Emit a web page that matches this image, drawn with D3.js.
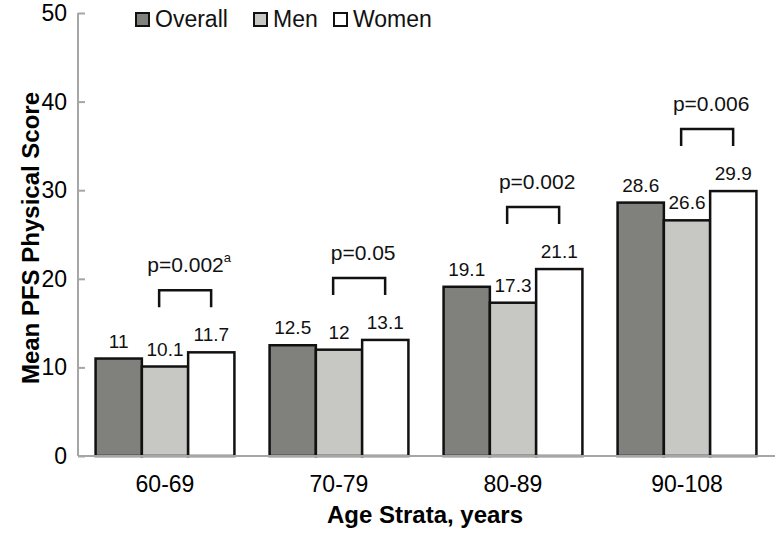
<!DOCTYPE html>
<html>
<head>
<meta charset="utf-8">
<script src="https://cdn.jsdelivr.net/npm/d3@7"></script>
<style>
  body { margin: 0; background: #fff; }
  text { font-family: "Liberation Sans", Arial, sans-serif; }
</style>
</head>
<body>
<div id="chart"></div>
<script>
var groups = ["60-69", "70-79", "80-89", "90-108"];
var series = ["Overall", "Men", "Women"];
var overall = [11, 12.5, 19.1, 28.6];
var men = [10.1, 12, 17.3, 26.6];
var women = [11.7, 13.1, 21.1, 29.9];
var pLabels = ["p=0.002", "p=0.05", "p=0.002", "p=0.006"];
var pSup = ["a", "", "", ""];
var yTicks = [0, 10, 20, 30, 40, 50];

var colors = {"Overall": "#80817c", "Men": "#c7c8c3", "Women": "#ffffff"};
var values = {"Overall": overall, "Men": men, "Women": women};

var width = 776, height = 533;
var svg = d3.select("#chart").append("svg")
    .attr("width", width)
    .attr("height", height);

var x = d3.scaleBand().domain(groups).range([78, 774]);
var xSub = d3.scaleBand().domain(series).range([0, x.bandwidth()])
    .paddingInner(0).paddingOuter(0.38);
var y = d3.scaleLinear().domain([0, 50]).range([456, 13]);

// y axis
var yAxis = svg.append("g")
    .attr("transform", "translate(78,0)")
    .call(d3.axisRight(y).tickValues(yTicks).tickSize(7).tickFormat(""));
yAxis.select(".domain").attr("stroke", "#a6a6a6").attr("stroke-width", 2)
    .attr("d", "M0," + y(50) + "V" + y(0));
yAxis.selectAll(".tick line").attr("stroke", "#a6a6a6").attr("stroke-width", 2);

svg.append("g").selectAll("text")
    .data(yTicks)
    .enter().append("text")
    .attr("x", 67)
    .attr("y", function(d){ return y(d) + 8; })
    .attr("text-anchor", "end")
    .attr("font-size", 23)
    .attr("fill", "#000")
    .text(function(d){ return d; });

// bars
var g = svg.append("g");
groups.forEach(function(grp, i){
    series.forEach(function(s){
        var v = values[s][i];
        g.append("rect")
            .attr("x", x(grp) + xSub(s))
            .attr("y", y(v))
            .attr("width", xSub.bandwidth())
            .attr("height", y(0) - y(v))
            .attr("fill", colors[s])
            .attr("stroke", "#111")
            .attr("stroke-width", 2.5);
        g.append("text")
            .attr("x", x(grp) + xSub(s) + xSub.bandwidth() / 2)
            .attr("y", y(v) - 11)
            .attr("text-anchor", "middle")
            .attr("font-size", 19)
            .attr("fill", "#111")
            .text(v);
    });

    // p-value bracket between Men and Women
    var mc = x(grp) + xSub("Men") + xSub.bandwidth() / 2;
    var wc = x(grp) + xSub("Women") + xSub.bandwidth() / 2;
    var cx = (mc + wc) / 2 - 3;
    var top = y(women[i]) - 62;
    g.append("path")
        .attr("d", "M" + (cx - 26) + "," + (top + 17) + "V" + top + "H" + (cx + 26) + "V" + (top + 17))
        .attr("fill", "none")
        .attr("stroke", "#111")
        .attr("stroke-width", 2.5);
    var t = g.append("text")
        .attr("x", cx + 4)
        .attr("y", top - 18)
        .attr("text-anchor", "middle")
        .attr("font-size", 21)
        .attr("fill", "#111")
        .text(pLabels[i]);
    if (pSup[i]) {
        t.append("tspan")
            .attr("dy", -10)
            .attr("font-size", 13)
            .text(pSup[i]);
    }
});

// x axis line
svg.append("line")
    .attr("x1", 78).attr("x2", 775)
    .attr("y1", y(0)).attr("y2", y(0))
    .attr("stroke", "#a6a6a6").attr("stroke-width", 2);

svg.append("g").selectAll("text")
    .data(groups)
    .enter().append("text")
    .attr("x", function(d){ return x(d) + x.bandwidth() / 2; })
    .attr("y", 492)
    .attr("text-anchor", "middle")
    .attr("font-size", 23)
    .attr("fill", "#000")
    .text(function(d){ return d; });

// axis titles
svg.append("text")
    .attr("x", 425).attr("y", 523)
    .attr("text-anchor", "middle")
    .attr("font-size", 24)
    .attr("font-weight", "bold")
    .text("Age Strata, years");

svg.append("text")
    .attr("transform", "translate(39,238) rotate(-90)")
    .attr("text-anchor", "middle")
    .attr("font-size", 24)
    .attr("font-weight", "bold")
    .text("Mean PFS Physical Score");

// legend
var legendX = [136, 254, 334];
var legend = svg.append("g");
series.forEach(function(s, i){
    legend.append("rect")
        .attr("x", legendX[i]).attr("y", 13)
        .attr("width", 13).attr("height", 13)
        .attr("fill", colors[s])
        .attr("stroke", "#111")
        .attr("stroke-width", 2);
    legend.append("text")
        .attr("x", legendX[i] + 19).attr("y", 27)
        .attr("font-size", 23)
        .attr("fill", "#111")
        .text(s);
});
</script>
</body>
</html>
